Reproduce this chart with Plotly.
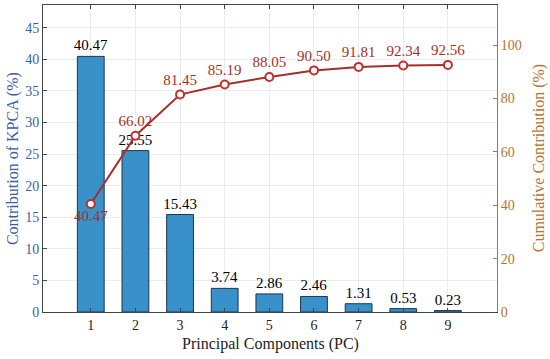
import plotly.graph_objects as go

pcs = [1, 2, 3, 4, 5, 6, 7, 8, 9]
contribution = [40.47, 25.55, 15.43, 3.74, 2.86, 2.46, 1.31, 0.53, 0.23]
cumulative = [40.47, 66.02, 81.45, 85.19, 88.05, 90.50, 91.81, 92.34, 92.56]
left_ticks = [0, 5, 10, 15, 20, 25, 30, 35, 40, 45]
right_ticks = [0, 20, 40, 60, 80, 100]

FONT = "Liberation Serif"
BLUE_TXT = "#3b5ea6"
BROWN_TXT = "#b8732c"
LINE_RED = "#a3302a"

fig = go.Figure()
fig.add_trace(go.Bar(
    x=pcs, y=contribution, width=0.6,
    marker=dict(color="#3891c8", line=dict(color="#1e3550", width=1)),
    text=[f"{v:.2f}" for v in contribution], textposition="outside",
    textfont=dict(family=FONT, size=15, color="black"),
    constraintext="none", cliponaxis=False, showlegend=False,
))
fig.add_trace(go.Scatter(
    x=pcs, y=cumulative, yaxis="y2", mode="lines+markers+text",
    line=dict(color=LINE_RED, width=2),
    marker=dict(symbol="circle", size=8, color="white", line=dict(color="#c0302a", width=2)),
    text=[f"{v:.2f}" for v in cumulative],
    textposition=["bottom center"] + ["top center"] * 8,
    textfont=dict(family=FONT, size=15, color="#a5302a"),
    cliponaxis=False, showlegend=False,
))

fig.update_layout(
    width=550, height=359,
    margin=dict(l=43, r=53, t=5, b=47),
    paper_bgcolor="white", plot_bgcolor="white",
    font=dict(family=FONT, size=14, color="#222"),
    xaxis=dict(
        range=[-0.07, 10.1], tickmode="array", tickvals=pcs,
        ticks="inside", ticklen=4, tickcolor="#444", mirror="ticks",
        showline=True, linecolor="#444", linewidth=1,
        showgrid=True, gridcolor="#e8ebf0", zeroline=False,
        tickfont=dict(family=FONT, size=14, color="#222"),
    ),
    yaxis=dict(
        range=[0, 48.6], tickmode="array", tickvals=left_ticks,
        ticks="inside", ticklen=4, tickcolor="#444",
        showline=True, linecolor="#444", linewidth=1,
        showgrid=True, gridcolor="#e8ebf0", zeroline=False,
        tickfont=dict(family=FONT, size=14, color=BLUE_TXT),
    ),
    yaxis2=dict(
        range=[0, 115], tickmode="array", tickvals=right_ticks,
        overlaying="y", side="right",
        ticks="inside", ticklen=4, tickcolor=BROWN_TXT,
        showline=True, linecolor=BROWN_TXT, linewidth=1,
        showgrid=False, zeroline=False,
        tickfont=dict(family=FONT, size=14, color=BROWN_TXT),
    ),
    annotations=[
        dict(text="Principal Components (PC)", xref="paper", yref="paper",
             x=0.5, y=-0.105, yanchor="middle", xanchor="center", showarrow=False,
             font=dict(family=FONT, size=16, color="#222")),
        dict(text="Contribution of KPCA (%)", xref="paper", yref="paper",
             x=-0.067, y=0.5, xanchor="center", yanchor="middle", textangle=-90, showarrow=False,
             font=dict(family=FONT, size=16, color=BLUE_TXT)),
        dict(text="Cumulative Contribution (%)", xref="paper", yref="paper",
             x=1.092, y=0.5, xanchor="center", yanchor="middle", textangle=-90, showarrow=False,
             font=dict(family=FONT, size=16, color=BROWN_TXT)),
    ],
)

fig.write_html("out.html", config={"displayModeBar": False},
               post_script="document.body.style.margin='0';")
